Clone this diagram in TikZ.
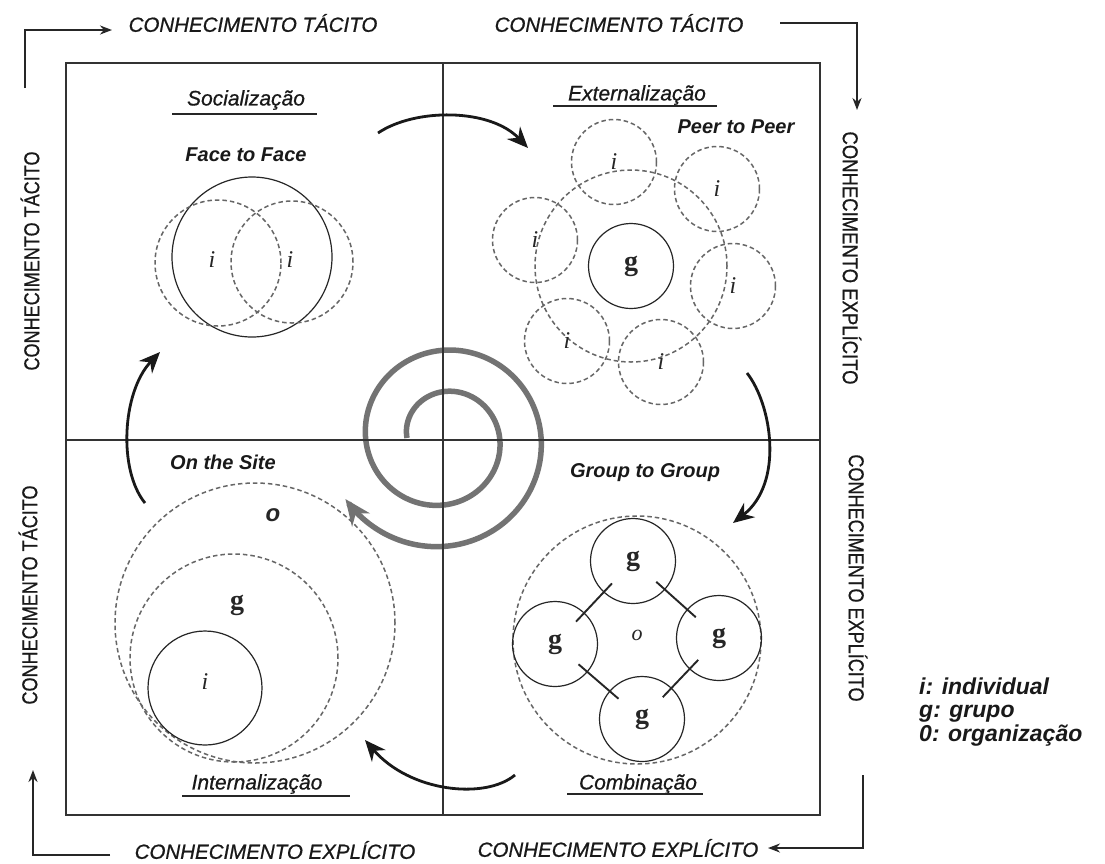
\documentclass[tikz,border=0pt]{standalone}
\usepackage{fontspec}
\setmainfont{Liberation Sans}
\newfontfamily\letterfont{Liberation Serif}
\newfontfamily\heavysans[FakeBold=0.7]{Liberation Sans}
\usetikzlibrary{arrows.meta,calc}
\begin{document}
\begin{tikzpicture}[x=1pt,y=-1pt,
  quadframe/.style={line width=1.3pt, draw=black!80},
  dcirc/.style={circle, draw=black!60, dash pattern=on 4.5pt off 3pt, line width=1.5pt, inner sep=0pt},
  scirc/.style={circle, draw=black!85, line width=1.2pt, inner sep=0pt},
  cyc/.style={line width=2.8pt, draw=black!90, -{Stealth[length=21pt,width=18pt]}},
  bracketarrow/.style={line width=2.3pt, draw=black!85, -{Stealth[length=12pt,width=9pt]}},
  spiralpath/.style={line width=5.5pt, draw=black!55, -{Stealth[length=26pt,width=22pt]}},
  uline/.style={line width=1.3pt, draw=black!85},
  hlab/.style={inner sep=0pt, text=black!90, font=\fontsize{21}{24}\selectfont\heavysans\itshape},
  blab/.style={inner sep=0pt, text=black!90, font=\fontsize{20}{24}\selectfont\bfseries\itshape},
  toplab/.style={inner sep=0pt, text=black!90, font=\fontsize{20.5}{24}\selectfont\heavysans\itshape},
  sidelab/.style={inner sep=0pt, text=black!90, font=\fontsize{21.5}{24}\selectfont\heavysans},
  ltr/.style={text=black!85, font=\fontsize{24}{26}\selectfont\letterfont\itshape},
  gtr/.style={text=black!85, font=\fontsize{28}{30}\selectfont\letterfont\bfseries},
  otr/.style={text=black!85, font=\fontsize{22}{24}\selectfont\letterfont\itshape},
]
\useasboundingbox (0,0) rectangle (1105,863);
\fill[white] (0,0) rectangle (1105,863);

% ---- outer frame labels and corner arrows ----
\node[toplab] (tacA) at (253,23) {CONHECIMENTO TÁCITO};
\node[toplab] (tacB) at (619,23) {CONHECIMENTO TÁCITO};
\node[toplab] (expA) at (275,850) {CONHECIMENTO EXPLÍCITO};
\node[toplab] (expB) at (618,848) {CONHECIMENTO EXPLÍCITO};
\node[sidelab, rotate=90, xscale=0.84] (tacL1) at (30,261) {CONHECIMENTO TÁCITO};
\node[sidelab, rotate=90, xscale=0.84] (tacL2) at (28,595) {CONHECIMENTO TÁCITO};
\node[sidelab, rotate=-90, xscale=0.86] (expR1) at (852,258) {CONHECIMENTO EXPLÍCITO};
\node[sidelab, rotate=-90, xscale=0.84] (expR2) at (858,578) {CONHECIMENTO EXPLÍCITO};

\coordinate (tl1) at (25,88);  \coordinate (tl2) at (25,30);  \coordinate (tl3) at (112,30);
\coordinate (tr1) at (780,23); \coordinate (tr2) at (857,23); \coordinate (tr3) at (857,110);
\coordinate (br1) at (863,775);\coordinate (br2) at (863,848);\coordinate (br3) at (768,848);
\coordinate (bl1) at (110,855);\coordinate (bl2) at (33,855); \coordinate (bl3) at (33,770);
\draw[bracketarrow] (tl1) -- (tl2) -- (tl3);
\draw[bracketarrow] (tr1) -- (tr2) -- (tr3);
\draw[bracketarrow] (br1) -- (br2) -- (br3);
\draw[bracketarrow] (bl1) -- (bl2) -- (bl3);

% ---- central spiral ----
\draw[spiralpath] plot[domain=180:-508, samples=160, smooth, variable=\t]
  ({443+(36+0.115*(180-\t))*cos(\t)}, {438-(36+0.115*(180-\t))*sin(\t)});

% ---- quadrant frame ----
\coordinate (fNW) at (66,63);  \coordinate (fSE) at (820,815);
\coordinate (midT) at (443,63); \coordinate (midB) at (443,815);
\coordinate (midL) at (66,440); \coordinate (midR) at (820,440);
\draw[quadframe] (fNW) rectangle (fSE);
\draw[quadframe, line width=1.1pt] (midT) -- (midB);
\draw[quadframe, line width=1.1pt] (midL) -- (midR);

% ---- Socialização ----
\node[hlab] (soc) at (246,100) {Socialização};
\draw[uline] (172,114) -- (317,114);
\node[blab] (f2f) at (246,155) {Face to Face};
\node[scirc, minimum size=160pt] (socS) at (252,257) {};
\node[dcirc, minimum size=126pt] (socI1) at (218,263) {};
\node[dcirc, minimum size=122pt] (socI2) at (292,262) {};
\node[ltr] at (212,260) {i};
\node[ltr] at (290,260) {i};

% ---- Externalização ----
\node[hlab] (ext) at (637,95) {Externalização};
\draw[uline] (553,106) -- (717,106);
\node[blab] (p2p) at (736,127) {Peer to Peer};
\node[dcirc, minimum size=192pt] (extG) at (631,266) {};
\node[scirc, minimum size=85pt, gtr] (extg) at (631,266) {g};
\node[dcirc, minimum size=85pt, ltr] (e1) at (614,162) {i};
\node[dcirc, minimum size=85pt, ltr] (e2) at (717,189) {i};
\node[dcirc, minimum size=85pt, ltr] (e3) at (535,240) {i};
\node[dcirc, minimum size=85pt, ltr] (e4) at (733,286) {i};
\node[dcirc, minimum size=85pt, ltr] (e5) at (567,341) {i};
\node[dcirc, minimum size=85pt, ltr] (e6) at (661,362) {i};

% ---- Combinação ----
\node[blab] (g2g) at (645,473) {Group to Group};
\node[dcirc, minimum size=248pt] (comO) at (637,640) {};
\node[scirc, minimum size=85pt, gtr] (cT) at (633,561) {g};
\node[scirc, minimum size=85pt, gtr] (cL) at (555,644) {g};
\node[scirc, minimum size=85pt, gtr] (cR) at (719,638) {g};
\node[scirc, minimum size=85pt, gtr] (cB) at (642,719) {g};
\node[otr] (co) at (637,635) {o};
\foreach \a/\b in {cT/cL, cT/cR, cL/cB, cR/cB}
  \draw[line width=1.9pt, black!85] ($(\a)!0.27!(\b)$) -- ($(\a)!0.73!(\b)$);
\node[hlab] (comb) at (638,784) {Combinação};
\draw[uline] (567,794) -- (703,794);

% ---- Internalização ----
\node[blab] (site) at (223,462) {On the Site};
\node[dcirc, minimum size=280pt] (inO) at (255,623) {};
\node[dcirc, minimum size=208pt] (inG) at (234,658) {};
\node[scirc, minimum size=114pt] (inI) at (205,688) {};
\node[font=\fontsize{24}{26}\selectfont\bfseries\itshape, text=black!85] at (273,515) {o};
\node[gtr] at (237,605) {g};
\node[ltr] at (205,682) {i};
\node[hlab] (intl) at (257,784) {Internalização};
\draw[uline] (182,796) -- (350,796);

% ---- cycle arrows between quadrants ----
\coordinate (a1s) at (378,133); \coordinate (a1e) at (528,148);
\coordinate (a2s) at (747,373); \coordinate (a2e) at (733,523);
\coordinate (a3s) at (515,775); \coordinate (a3e) at (365,740);
\coordinate (a4s) at (145,503); \coordinate (a4e) at (160,352);
\draw[cyc] (a1s) .. controls (415,108) and (490,108) .. (a1e);
\draw[cyc] (a2s) .. controls (772,405) and (784,483) .. (a2e);
\draw[cyc] (a3s) .. controls (485,800) and (410,792) .. (a3e);
\draw[cyc] (a4s) .. controls (118,470) and (122,392) .. (a4e);

% ---- legend ----
\node[anchor=west, align=left, inner sep=0pt, text=black!90,
      font=\fontsize{23}{23.5}\selectfont\bfseries\itshape] (legend) at (919,712)
  {i: individual\\g: grupo\\0: organização};
\end{tikzpicture}
\end{document}
